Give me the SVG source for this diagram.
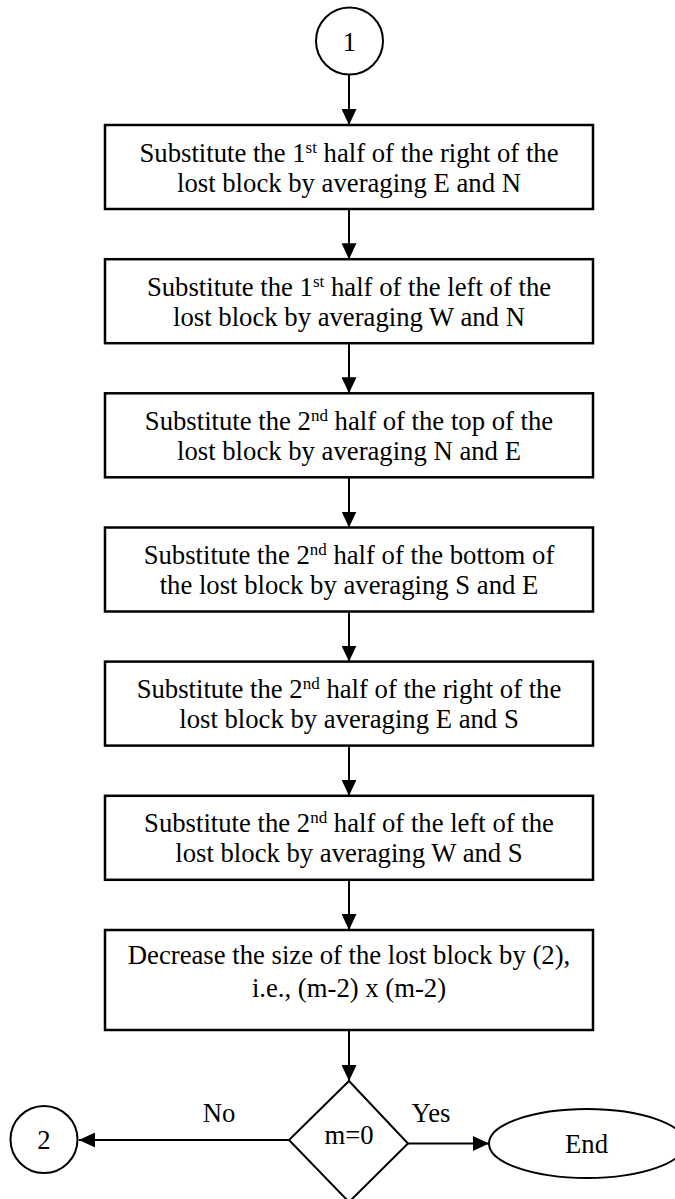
<svg xmlns="http://www.w3.org/2000/svg" width="675" height="1199" viewBox="0 0 675 1199">
<style>
.box{fill:#fff;stroke:#000;stroke-width:2.5}
.shape{fill:#fff;stroke:#000;stroke-width:2}
.t{font-family:"Liberation Serif","Times New Roman",serif;font-size:26.7px;fill:#000;text-anchor:middle}
.sup{font-size:17px}
.con{fill:none;stroke:#000;stroke-width:2}
</style>
<defs>
<marker id="arr" markerUnits="userSpaceOnUse" markerWidth="16" markerHeight="15" refX="16" refY="7.5" orient="auto">
<path d="M0,0 L16,7.5 L0,15 z" fill="#000"/>
</marker>
</defs>
<rect width="675" height="1199" fill="#fff"/>
<g id="connectors">
<line class="con" x1="349" y1="75" x2="349" y2="125" marker-end="url(#arr)"/>
<line class="con" x1="349" y1="209" x2="349" y2="259.2" marker-end="url(#arr)"/>
<line class="con" x1="349" y1="343.2" x2="349" y2="393.3" marker-end="url(#arr)"/>
<line class="con" x1="349" y1="477.3" x2="349" y2="527.5" marker-end="url(#arr)"/>
<line class="con" x1="349" y1="611.5" x2="349" y2="661.6" marker-end="url(#arr)"/>
<line class="con" x1="349" y1="745.6" x2="349" y2="795.8" marker-end="url(#arr)"/>
<line class="con" x1="349" y1="879.8" x2="349" y2="930" marker-end="url(#arr)"/>
<line class="con" x1="349" y1="1030" x2="349" y2="1081" marker-end="url(#arr)"/>
<line class="con" x1="289" y1="1140" x2="79" y2="1140" marker-end="url(#arr)"/>
<line class="con" x1="408" y1="1143.5" x2="489" y2="1143.5" marker-end="url(#arr)"/>
<text class="t" x="219" y="1122">No</text>
<text class="t" x="431" y="1122">Yes</text>
</g>
<g id="start1">
<circle class="shape" cx="349.5" cy="41" r="33.5"/>
<text class="t" x="349.5" y="51">1</text>
</g>
<g id="box1">
<rect class="box" x="105" y="125" width="488" height="84"/>
<text class="t" x="349" y="161.5">Substitute the 1<tspan class="sup" dy="-9">st</tspan><tspan dy="9"> half of the right of the</tspan></text>
<text class="t" x="349" y="191.5">lost block by averaging E and N</text>
</g>
<g id="box2">
<rect class="box" x="105" y="259.2" width="488" height="84"/>
<text class="t" x="349" y="295.7">Substitute the 1<tspan class="sup" dy="-9">st</tspan><tspan dy="9"> half of the left of the</tspan></text>
<text class="t" x="349" y="325.7">lost block by averaging W and N</text>
</g>
<g id="box3">
<rect class="box" x="105" y="393.3" width="488" height="84"/>
<text class="t" x="349" y="429.8">Substitute the 2<tspan class="sup" dy="-9">nd</tspan><tspan dy="9"> half of the top of the</tspan></text>
<text class="t" x="349" y="459.8">lost block by averaging N and E</text>
</g>
<g id="box4">
<rect class="box" x="105" y="527.5" width="488" height="84"/>
<text class="t" x="349" y="564">Substitute the 2<tspan class="sup" dy="-9">nd</tspan><tspan dy="9"> half of the bottom of</tspan></text>
<text class="t" x="349" y="594">the lost block by averaging S and E</text>
</g>
<g id="box5">
<rect class="box" x="105" y="661.6" width="488" height="84"/>
<text class="t" x="349" y="698.1">Substitute the 2<tspan class="sup" dy="-9">nd</tspan><tspan dy="9"> half of the right of the</tspan></text>
<text class="t" x="349" y="728.1">lost block by averaging E and S</text>
</g>
<g id="box6">
<rect class="box" x="105" y="795.8" width="488" height="84"/>
<text class="t" x="349" y="831.5">Substitute the 2<tspan class="sup" dy="-9">nd</tspan><tspan dy="9"> half of the left of the</tspan></text>
<text class="t" x="349" y="862">lost block by averaging W and S</text>
</g>
<g id="box7">
<rect class="box" x="105" y="930" width="488" height="100"/>
<text class="t" x="349" y="964.3">Decrease the size of the lost block by (2),</text>
<text class="t" x="349" y="996.7">i.e., (m-2) x (m-2)</text>
</g>
<g id="decision">
<polygon class="shape" points="349,1081 408,1143.5 349,1202 289,1140"/>
<text class="t" x="349" y="1144">m=0</text>
</g>
<g id="connector2">
<circle class="shape" cx="44" cy="1139.5" r="33.5"/>
<text class="t" x="44" y="1149.3">2</text>
</g>
<g id="end">
<ellipse class="shape" cx="587" cy="1143.5" rx="98" ry="34.5"/>
<text class="t" x="586.5" y="1153.3">End</text>
</g>
</svg>
